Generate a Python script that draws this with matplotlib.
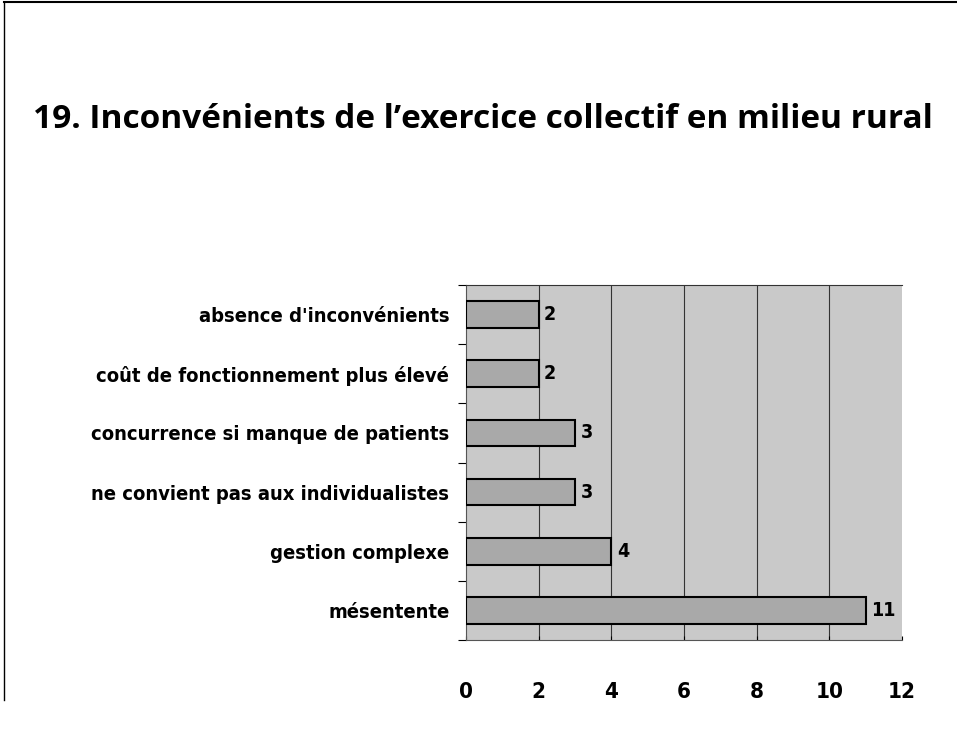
import matplotlib
matplotlib.use("Agg")
import matplotlib.pyplot as plt
from matplotlib.lines import Line2D

# data
categories = ["mésentente", "gestion complexe", "ne convient pas aux individualistes",
              "concurrence si manque de patients", "coût de fonctionnement plus élevé",
              "absence d'inconvénients"]
values = [11, 4, 3, 3, 2, 2]
xticks = [0, 2, 4, 6, 8, 10, 12]

label_font = dict(family="DejaVu Sans", stretch="condensed", fontweight="bold")

fig = plt.figure(figsize=(9.57, 7.29), dpi=100)
ax = fig.add_axes([466 / 957, 1 - 640 / 729, 436 / 957, 355 / 729])

ypos = list(range(len(categories)))
ax.barh(ypos, values, height=0.45, color="#a9a9a9", edgecolor="black", linewidth=1.5, zorder=3)
ax.set_facecolor("#c9c9c9")
ax.set_xlim(0, 12)
ax.set_ylim(-0.5, len(categories) - 0.5)

for x in xticks[1:-1]:
    ax.axvline(x, color="#333333", linewidth=0.8, zorder=1)

for y, v in zip(ypos, values):
    ax.text(v + 0.15, y, str(v), va="center", ha="left", fontsize=14, zorder=4, **label_font)

ax.set_yticks([y + 0.5 for y in ypos[:-1]] + [-0.5, len(categories) - 0.5], minor=False)
ax.set_yticklabels([])
ax.set_yticks(ypos, minor=True)
ax.set_yticklabels(categories, minor=True, fontsize=14.5, **label_font)
ax.tick_params(axis="y", which="minor", length=0, pad=12)
ax.tick_params(axis="y", which="major", length=6, direction="out")

ax.set_xticks(xticks)
ax.set_xticklabels([str(t) for t in xticks], fontsize=16, **label_font)
ax.tick_params(axis="x", length=3, direction="in", pad=30)

ax.spines["right"].set_visible(False)
ax.spines["top"].set_color("#333333")
ax.spines["left"].set_color("#555555")
ax.spines["bottom"].set_color("#555555")

fig.text(33 / 957, 1 - 119 / 729, "19. Inconvénients de l’exercice collectif en milieu rural",
         ha="left", va="center", fontsize=24, fontweight="bold", family=["Open Sans", "DejaVu Sans"])

# frame lines around the slide
fig.add_artist(Line2D([4 / 957, 1], [1 - 2 / 729, 1 - 2 / 729], color="black", linewidth=1.5))
fig.add_artist(Line2D([4 / 957, 4 / 957], [1 - 2 / 729, 1 - 700 / 729], color="black", linewidth=1))

fig.savefig("out.png", dpi=100)
